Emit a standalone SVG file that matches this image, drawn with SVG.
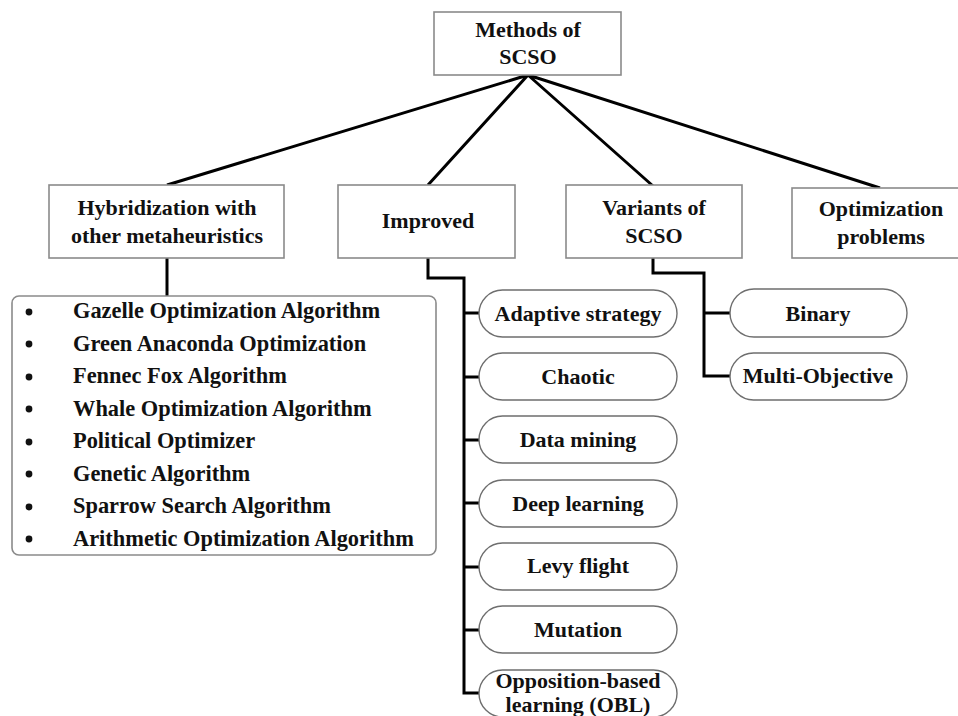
<svg xmlns="http://www.w3.org/2000/svg" width="958" height="716" viewBox="0 0 958 716">
<style>
.box{fill:#fff;stroke:#8a8a8a;stroke-width:1.6}
.pill{fill:#fff;stroke:#6e6e6e;stroke-width:1.4}
.t{font-family:"Liberation Serif","Times New Roman",serif;font-weight:bold;font-size:22px;fill:#111;text-anchor:middle}
.l{font-family:"Liberation Serif","Times New Roman",serif;font-weight:bold;font-size:22.4px;fill:#111}
.c{fill:none;stroke:#000;stroke-width:3;stroke-linejoin:miter}
</style>
<rect width="958" height="716" fill="#fff"/>
<g id="connectors">
<path class="c" d="M528,75 L167,185 M528,75 L428,185 M528,75 L653,186 M528,75 L880,188"/>
<path class="c" d="M167,258 V297"/>
<path class="c" d="M428,258 V278 H464 V693 H479 M464,313 H479 M464,377 H479 M464,440 H479 M464,503 H479 M464,567 H479 M464,630 H479"/>
<path class="c" d="M653,258 V273 H704 V376 H730 M704,313 H730"/>
</g>
<g id="root"><rect class="box" x="434" y="12" width="187" height="63"/><text class="t" x="528" y="37">Methods of</text><text class="t" x="528" y="64">SCSO</text></g>
<g id="hybrid"><rect class="box" x="49" y="185" width="235" height="73"/><text class="t" x="167" y="215">Hybridization with</text><text class="t" x="167" y="243">other metaheuristics</text></g>
<g id="improved"><rect class="box" x="338" y="185" width="177" height="73"/><text class="t" x="428" y="228">Improved</text></g>
<g id="variants"><rect class="box" x="566" y="185" width="176" height="73"/><text class="t" x="654" y="215">Variants of</text><text class="t" x="654" y="243">SCSO</text></g>
<g id="optimization"><rect class="box" x="792" y="188" width="178" height="70"/><text class="t" x="881" y="216">Optimization</text><text class="t" x="881" y="244">problems</text></g>
<g id="hybrid-list">
<rect class="box" x="12" y="296" width="424" height="259" rx="7"/>
<g fill="#111"><circle cx="29" cy="312" r="3.4"/><circle cx="29" cy="344" r="3.4"/><circle cx="29" cy="377" r="3.4"/><circle cx="29" cy="409" r="3.4"/><circle cx="29" cy="442" r="3.4"/><circle cx="29" cy="474" r="3.4"/><circle cx="29" cy="507" r="3.4"/><circle cx="29" cy="539" r="3.4"/></g>
<text class="l" x="73" y="318">Gazelle Optimization Algorithm</text>
<text class="l" x="73" y="351">Green Anaconda Optimization</text>
<text class="l" x="73" y="383">Fennec Fox Algorithm</text>
<text class="l" x="73" y="416">Whale Optimization Algorithm</text>
<text class="l" x="73" y="448">Political Optimizer</text>
<text class="l" x="73" y="481">Genetic Algorithm</text>
<text class="l" x="73" y="513">Sparrow Search Algorithm</text>
<text class="l" x="73" y="546">Arithmetic Optimization Algorithm</text>
</g>
<g id="adaptive"><rect class="pill" x="479" y="290" width="198" height="47" rx="23.5"/><text class="t" x="578" y="321">Adaptive strategy</text></g>
<g id="chaotic"><rect class="pill" x="479" y="353" width="198" height="47" rx="23.5"/><text class="t" x="578" y="384">Chaotic</text></g>
<g id="datamining"><rect class="pill" x="479" y="416" width="198" height="47" rx="23.5"/><text class="t" x="578" y="447">Data mining</text></g>
<g id="deeplearning"><rect class="pill" x="479" y="480" width="198" height="47" rx="23.5"/><text class="t" x="578" y="511">Deep learning</text></g>
<g id="levy"><rect class="pill" x="479" y="543" width="198" height="47" rx="23.5"/><text class="t" x="578" y="573">Levy flight</text></g>
<g id="mutation"><rect class="pill" x="479" y="606" width="198" height="47" rx="23.5"/><text class="t" x="578" y="637">Mutation</text></g>
<g id="obl"><rect class="pill" x="479" y="670" width="198" height="47" rx="23.5"/><text class="t" x="578" y="688">Opposition-based</text><text class="t" x="578" y="712">learning (OBL)</text></g>
<g id="binary"><rect class="pill" x="730" y="289" width="177" height="48" rx="24"/><text class="t" x="818" y="321">Binary</text></g>
<g id="multiobjective"><rect class="pill" x="730" y="353" width="177" height="47" rx="23.5"/><text class="t" x="818" y="383">Multi-Objective</text></g>
</svg>
